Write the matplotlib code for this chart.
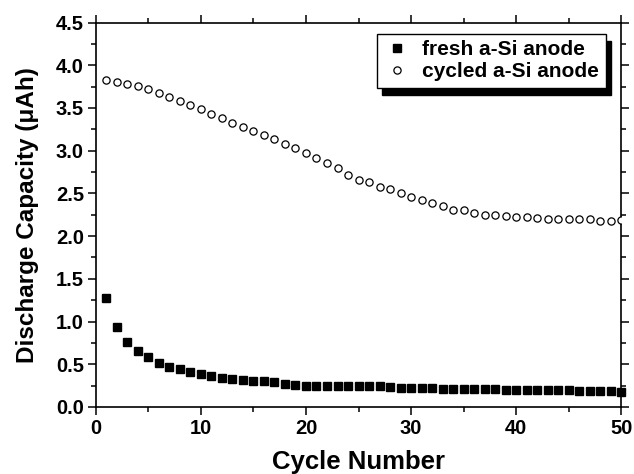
import matplotlib.pyplot as plt
from matplotlib.ticker import MultipleLocator

plt.rcParams['font.family'] = ['Liberation Sans', 'DejaVu Sans']
plt.rcParams['font.weight'] = 'bold'

cycles = list(range(1, 51))

# fresh a-Si anode (uAh)
fresh = [1.27, 0.94, 0.76, 0.65, 0.58, 0.52, 0.47, 0.44, 0.41, 0.39,
         0.36, 0.34, 0.33, 0.31, 0.30, 0.30, 0.29, 0.27, 0.26, 0.25,
         0.25, 0.24, 0.24, 0.245, 0.245, 0.245, 0.245, 0.23, 0.22, 0.22,
         0.22, 0.22, 0.21, 0.21, 0.21, 0.21, 0.21, 0.21, 0.20, 0.20,
         0.20, 0.20, 0.20, 0.20, 0.195, 0.19, 0.19, 0.185, 0.185, 0.18]

# cycled a-Si anode (uAh)
cycled = [3.83, 3.80, 3.78, 3.76, 3.72, 3.68, 3.63, 3.58, 3.53, 3.49,
          3.43, 3.38, 3.33, 3.28, 3.23, 3.18, 3.14, 3.08, 3.03, 2.97,
          2.91, 2.86, 2.80, 2.72, 2.66, 2.63, 2.58, 2.55, 2.51, 2.46,
          2.42, 2.39, 2.35, 2.31, 2.30, 2.27, 2.25, 2.25, 2.24, 2.22,
          2.22, 2.21, 2.20, 2.20, 2.20, 2.20, 2.20, 2.18, 2.18, 2.19]

fig = plt.figure(figsize=(6.34, 4.74), dpi=100)
ax = fig.add_axes([0.151, 0.1414, 0.829, 0.811])

ax.plot(cycles, fresh, 's', color='black', markersize=5.2, label='fresh a-Si anode', clip_on=False, zorder=3)
ax.plot(cycles, cycled, 'o', markerfacecolor='white', markeredgecolor='black', markeredgewidth=0.9,
        markersize=5.2, label='cycled a-Si anode', zorder=3)

ax.set_xlim(0, 50)
ax.set_ylim(0, 4.5)
ax.xaxis.set_major_locator(MultipleLocator(10))
ax.xaxis.set_minor_locator(MultipleLocator(5))
ax.yaxis.set_major_locator(MultipleLocator(0.5))
ax.yaxis.set_minor_locator(MultipleLocator(0.25))
ax.yaxis.set_major_formatter(plt.FormatStrFormatter('%.1f'))

ax.tick_params(which='both', direction='out', top=True, right=True, width=1.1,
               labeltop=False, labelright=False, labelsize=14.5, pad=2.5)
ax.tick_params(which='major', length=6)
ax.tick_params(which='minor', length=3.5)
for s in ax.spines.values():
    s.set_linewidth(1.2)

ax.set_xlabel('Cycle Number', fontsize=18.5, fontweight='bold', labelpad=9)
ax.set_ylabel('Discharge Capacity (\u03bcAh)', fontsize=17.5, fontweight='bold', labelpad=12)

leg = ax.legend(loc='upper right', bbox_to_anchor=(0.970, 0.970), borderaxespad=0,
                fancybox=False, edgecolor='black', framealpha=1, numpoints=1,
                handlelength=1.4, handletextpad=0.5, borderpad=0.3, labelspacing=0.15,
                prop={'size': 15, 'weight': 'bold'},
                shadow={'ox': 4.2, 'oy': -5, 'color': 'black', 'alpha': 1})
leg.get_frame().set_linewidth(1.0)

fig.savefig('out.png', dpi=100)
